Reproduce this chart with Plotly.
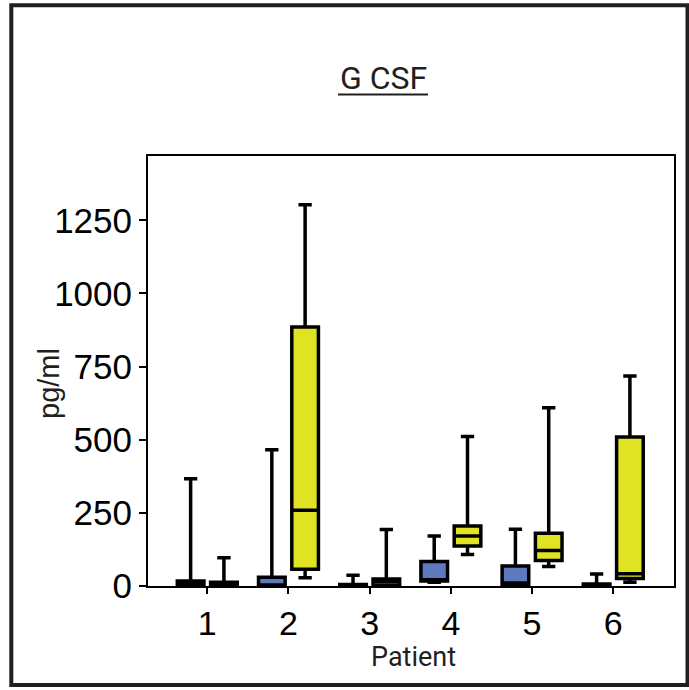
import plotly.graph_objects as go

patients = [1, 2, 3, 4, 5, 6]
tick_vals = [0, 250, 500, 750, 1000, 1250]
tick_text = ["0", "250", "500", "750", "1000", "1250"]

# blue (first) series box statistics
blue_lower = [0, 0, 0, 13, 0, 0]
blue_q1 = [0, 0, 0, 17, 2, 0]
blue_median = [5, 3, 2, 21, 10, 3]
blue_q3 = [17, 30, 5, 84, 68, 7]
blue_upper = [367, 466, 37, 171, 194, 41]

# yellow (second) series box statistics
yellow_lower = [0, 28, 0, 108, 67, 13]
yellow_q1 = [0, 57, 3, 137, 87, 26]
yellow_median = [5, 259, 16, 171, 121, 42]
yellow_q3 = [13, 885, 24, 205, 180, 509]
yellow_upper = [97, 1303, 193, 511, 609, 718]

BLUE = "#5F79BE"
YELLOW = "#E0E224"

fig = go.Figure()
fig.add_trace(go.Box(
    x=patients, q1=blue_q1, median=blue_median, q3=blue_q3,
    lowerfence=blue_lower, upperfence=blue_upper,
    fillcolor=BLUE, line=dict(color="black", width=3.5),
    whiskerwidth=0.5, boxpoints=False, name="A", showlegend=False,
    hoverinfo="skip",
))
fig.add_trace(go.Box(
    x=patients, q1=yellow_q1, median=yellow_median, q3=yellow_q3,
    lowerfence=yellow_lower, upperfence=yellow_upper,
    fillcolor=YELLOW, line=dict(color="black", width=3.5),
    whiskerwidth=0.5, boxpoints=False, name="B", showlegend=False,
    hoverinfo="skip",
))

L, R, T, B = 148, 15, 156, 104
W, H = 689, 690
pw, ph = W - L - R, H - T - B


def px_x(p):
    return (p - L) / pw


def px_y(p):
    return (H - B - p) / ph


fig.update_layout(
    width=W, height=H,
    margin=dict(l=L, r=R, t=T, b=B, pad=0),
    paper_bgcolor="white", plot_bgcolor="white",
    boxmode="group", boxgap=0.18, boxgroupgap=0.2,
    showlegend=False,
    xaxis=dict(
        range=[0.27, 6.748], tickmode="array", tickvals=patients,
        ticktext=[str(p) for p in patients],
        showgrid=False, zeroline=False,
        showline=True, linecolor="black", linewidth=2, mirror=True,
        ticks="outside", ticklen=6, tickwidth=2, tickcolor="black",
        tickfont=dict(family="Liberation Sans, Arial", size=34, color="black"),
    ),
    yaxis=dict(
        range=[0, 1470], tickmode="array", tickvals=tick_vals, ticktext=tick_text,
        showgrid=False, zeroline=False,
        showline=True, linecolor="black", linewidth=2, mirror=True,
        ticks="outside", ticklen=7, tickwidth=2, tickcolor="black",
        tickfont=dict(family="Liberation Sans, Arial", size=35, color="black"),
    ),
    annotations=[
        dict(text="G CSF", xref="paper", yref="paper", x=px_x(383), y=px_y(78),
             xanchor="center", yanchor="middle", showarrow=False,
             font=dict(family="Roboto", size=32, color="#231f20")),
        dict(text="Patient", xref="paper", yref="paper", x=px_x(413), y=px_y(657),
             xanchor="center", yanchor="middle", showarrow=False,
             font=dict(family="Roboto", size=27, color="#231f20")),
        dict(text="pg/ml", xref="paper", yref="paper", x=px_x(49), y=px_y(384),
             xanchor="center", yanchor="middle", showarrow=False, textangle=-90,
             font=dict(family="Liberation Sans, Arial", size=29, color="#231f20")),
    ],
    shapes=[
        dict(type="rect", xref="paper", yref="paper",
             x0=px_x(11.3), x1=px_x(687.5), y0=px_y(685), y1=px_y(5.3),
             line=dict(color="#231f20", width=4), fillcolor="rgba(0,0,0,0)"),
        dict(type="line", xref="paper", yref="paper",
             x0=px_x(338), x1=px_x(428), y0=px_y(94.5), y1=px_y(94.5),
             line=dict(color="#231f20", width=2)),
    ],
)

fig.write_html(
    "out.html",
    config={"displayModeBar": False},
    post_script="document.body.style.margin='0';document.body.style.overflow='hidden';",
)
